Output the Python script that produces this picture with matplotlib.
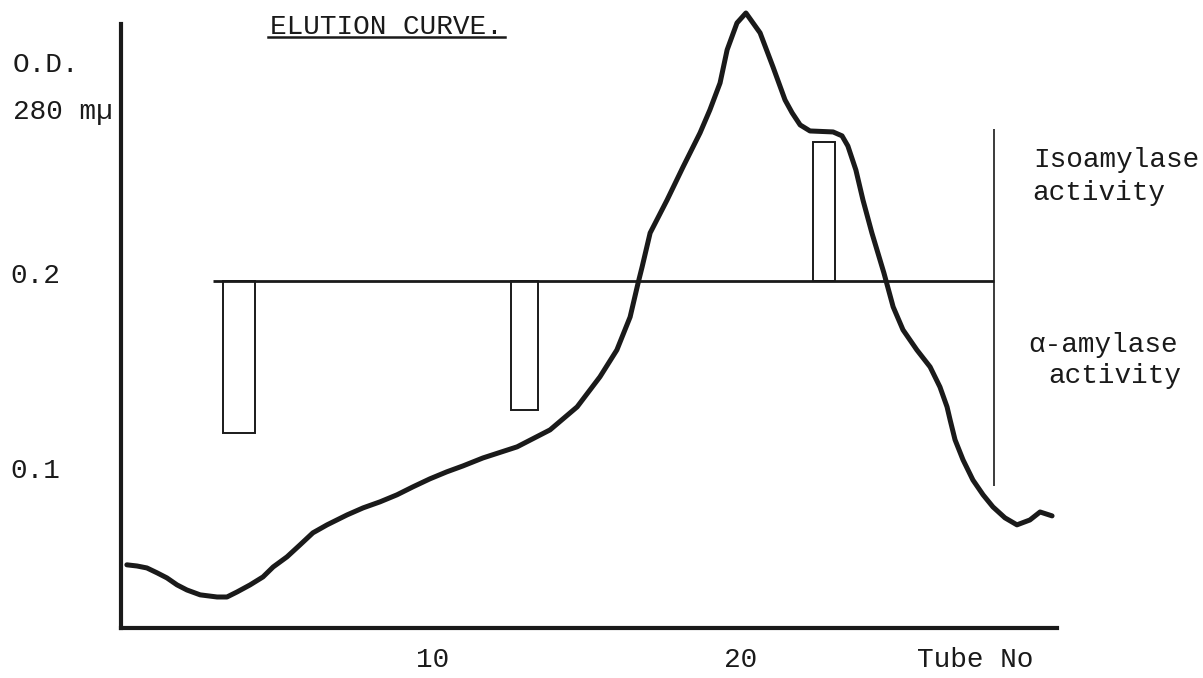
import matplotlib
matplotlib.use("Agg")
import matplotlib.pyplot as plt
from matplotlib.lines import Line2D
from matplotlib.transforms import ScaledTranslation

# Elution curve: O.D. at 280 mu against tube number
tube = [0.06, 0.39, 0.71, 1.04, 1.36, 1.69, 2.01, 2.44, 2.99, 3.31, 3.64,
        4.06, 4.48, 4.81, 5.26, 5.68, 6.10, 6.56, 7.21, 7.73, 8.28, 8.83,
        9.35, 9.90, 10.45, 10.97, 11.62, 12.73, 13.80, 14.68, 15.42, 15.97,
        16.40, 16.66, 16.79, 17.05, 17.60, 18.12, 18.67, 18.99, 19.32, 19.55,
        19.87, 20.16, 20.62, 21.04, 21.43, 21.66, 21.92, 22.24, 22.99, 23.28,
        23.47, 23.73, 23.96, 24.25, 24.64, 24.94, 25.26, 25.71, 26.14, 26.46,
        26.69, 26.79, 26.95, 27.21, 27.53, 27.86, 28.18, 28.57, 28.96, 29.38,
        29.71, 30.10]
od = [0.0544, 0.0538, 0.0528, 0.0503, 0.0477, 0.0441, 0.0415, 0.0390, 0.0379,
      0.0379, 0.0405, 0.0441, 0.0482, 0.0533, 0.0585, 0.0646, 0.0708, 0.0749,
      0.0800, 0.0836, 0.0867, 0.0903, 0.0944, 0.0985, 0.1021, 0.1051, 0.1092,
      0.1149, 0.1236, 0.1354, 0.1508, 0.1646, 0.1815, 0.1990, 0.2072, 0.2246,
      0.2415, 0.2585, 0.2759, 0.2877, 0.3015, 0.3185, 0.3323, 0.3374, 0.3272,
      0.3097, 0.2928, 0.2862, 0.2800, 0.2769, 0.2764, 0.2744, 0.2692, 0.2569,
      0.2415, 0.2246, 0.2041, 0.1867, 0.1749, 0.1646, 0.1559, 0.1456, 0.1354,
      0.1287, 0.1185, 0.1082, 0.0979, 0.0903, 0.0841, 0.0785, 0.0749, 0.0774,
      0.0815, 0.0795]

# enzyme activity blocks hanging off the 0.2 reference line
baseline = 0.2
baseline_start = 2.86
divider_x = 28.2
divider_range = (0.095, 0.278)

alpha_left = [3.18, 12.53]
alpha_right = [4.22, 13.41]
alpha_activity = [0.078, 0.066]   # drawn downward

iso_left = [22.34]
iso_right = [23.05]
iso_activity = [0.071]            # drawn upward

x_ticks = [10, 20]
y_ticks = [0.1, 0.2]

W, H = 1203, 678
ink = "#1a1a1a"
font = "Liberation Mono"
fs = 20

fig = plt.figure(figsize=(W / 100, H / 100), dpi=100)
ax = fig.add_axes([121 / W, 1 - 628 / H, 936 / W, 623 / H])
ax.set_xlim(-0.13, 30.26)
ax.set_ylim(0.022, 0.3415)

# the curve
ax.plot(tube, od, color=ink, lw=3.6, solid_capstyle="round", solid_joinstyle="round")

# reference line and divider
ax.hlines(baseline, baseline_start, divider_x, color=ink, lw=2.0)
ax.vlines(divider_x, *divider_range, color=ink, lw=1.2)

# activity bars (open rectangles)
a_w = [r - l for l, r in zip(alpha_left, alpha_right)]
ax.bar(alpha_left, [-h for h in alpha_activity], a_w, bottom=baseline, align="edge",
       fill=False, edgecolor=ink, lw=1.4)
i_w = [r - l for l, r in zip(iso_left, iso_right)]
ax.bar(iso_left, iso_activity, i_w, bottom=baseline, align="edge",
       fill=False, edgecolor=ink, lw=1.4)

# axes look like hand drawn ones
for s in ["top", "right"]:
    ax.spines[s].set_visible(False)
ax.spines["left"].set_linewidth(3)
ax.spines["bottom"].set_linewidth(3)
ax.spines["left"].set_color(ink)
ax.spines["bottom"].set_color(ink)
ax.spines["left"].set_bounds(0.022, 0.3318)

ax.set_xticks(x_ticks)
ax.set_xticklabels([str(t) for t in x_ticks], fontfamily=font, fontsize=fs, color=ink)
ax.set_yticks(y_ticks)
ax.set_yticklabels([f"{t:.1f}" for t in y_ticks], fontfamily=font, fontsize=fs, color=ink)
ax.tick_params(axis="x", length=0, pad=14)
ax.tick_params(axis="y", length=0, pad=44)

# typed labels sit a little above the pencil ticks
offset = ScaledTranslation(0, 0.08, fig.dpi_scale_trans)
for label in ax.yaxis.get_majorticklabels():
    label.set_transform(label.get_transform() + offset)

ax.set_xlabel("Tube No", fontfamily=font, fontsize=fs, color=ink)
ax.xaxis.set_label_coords((975 - 121) / 936, -0.031)
ax.xaxis.label.set_va("top")


def fx(px):
    return px / W


def fy(py):
    return 1 - py / H


# y axis caption
fig.text(fx(13), fy(65), "O.D.", fontfamily=font, fontsize=fs, color=ink, va="center")
fig.text(fx(13), fy(112), "280 mµ", fontfamily=font, fontsize=fs, color=ink, va="center")

# title with underline
fig.text(fx(270), fy(27), "ELUTION CURVE.", fontfamily=font, fontsize=fs, color=ink,
         va="center")
fig.add_artist(Line2D([fx(268), fx(505)], [fy(37), fy(37)], color=ink, lw=1.8))

# side labels
fig.text(fx(1033), fy(160), "Isoamylase", fontfamily=font, fontsize=fs, color=ink, va="center")
fig.text(fx(1032), fy(193), "activity", fontfamily=font, fontsize=fs, color=ink, va="center")
fig.text(fx(1028), fy(345), "α-amylase", fontfamily=font, fontsize=fs, color=ink, va="center")
fig.text(fx(1048), fy(376), "activity", fontfamily=font, fontsize=fs, color=ink, va="center")

fig.savefig("out.png", dpi=100)
